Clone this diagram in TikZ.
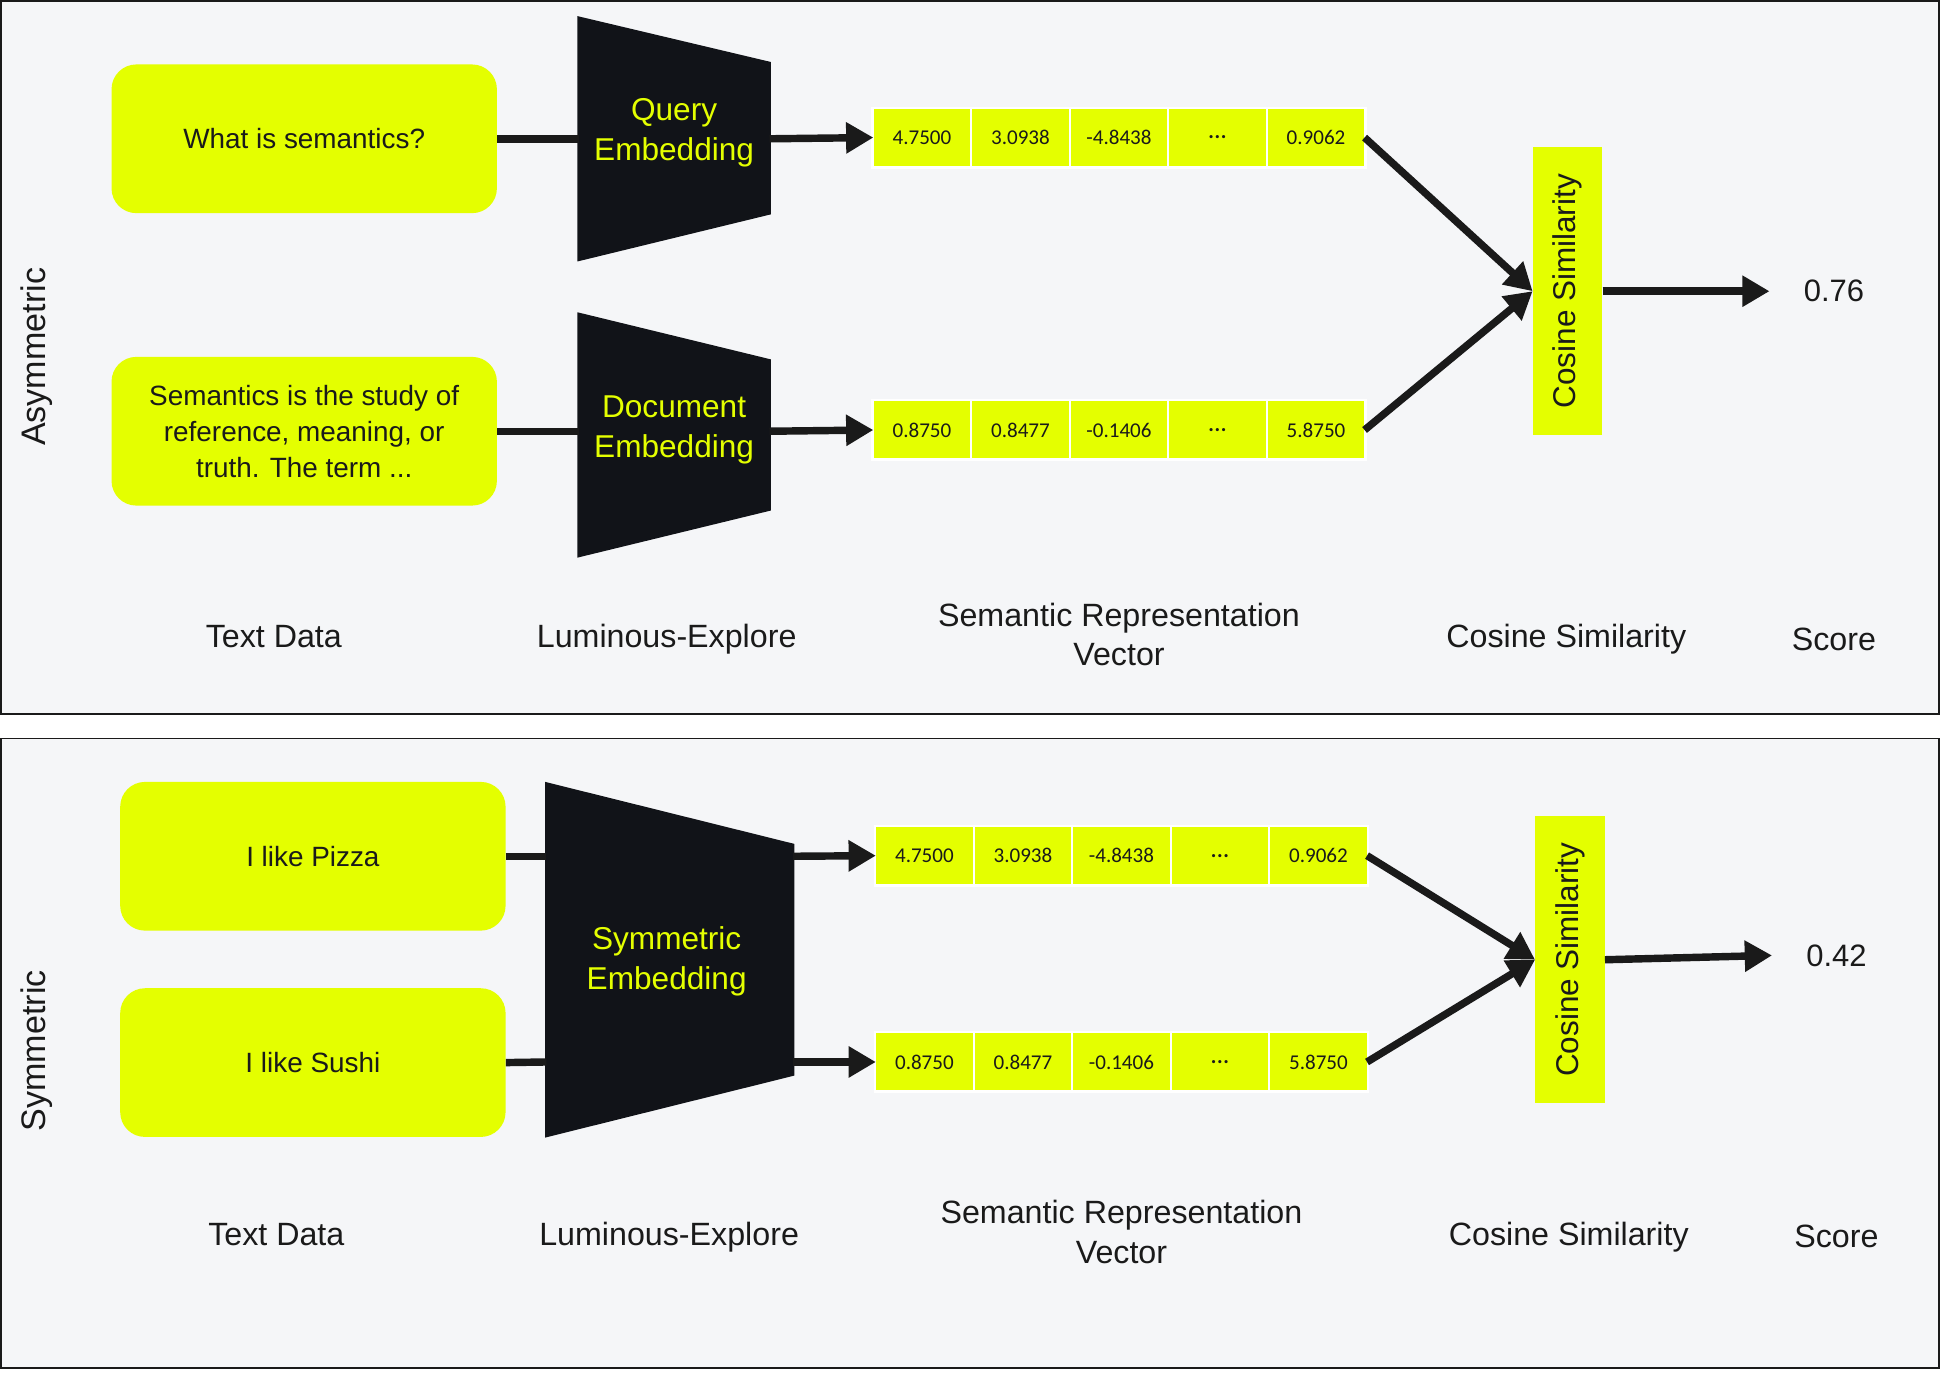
\documentclass[tikz,border=0pt]{standalone}
\usepackage{fontspec}
\setmainfont{Liberation Sans}
\newfontfamily\cellfont{Carlito}
\usetikzlibrary{arrows.meta}
\definecolor{lime}{HTML}{E4FF00}
\definecolor{ink}{HTML}{1A1A1A}
\definecolor{trap}{HTML}{111318}
\definecolor{panel}{HTML}{F5F6F8}
\newcommand\vecrow[8]{%
  \fill[white] (#2-2,#3-25) rectangle (#2+398,#3+25);
  \node[cell] (#1a) at (#2+39,#3) {#4};
  \node[cell] (#1b) at (#2+118.5,#3) {#5};
  \node[cell] (#1c) at (#2+198,#3) {#6};
  \node[cell] (#1d) at (#2+277.5,#3) {#7};
  \node[cell] (#1e) at (#2+357,#3) {#8};
}
\newcommand\celldots{{\bfseries .\kern0.5pt.\kern0.5pt.}}
\begin{document}
\begin{tikzpicture}[x=1pt,y=-1pt,
  panelbox/.style={draw=ink,line width=1.5pt,fill=panel},
  textbox/.style={fill=lime,rounded corners=20pt,minimum width=311pt,minimum height=120pt,inner sep=0pt,align=center,text=ink,font=\fontsize{22.5}{29}\selectfont},
  trapezium/.style={fill=trap},
  traptext/.style={align=center,text=lime,font=\fontsize{25.5}{32}\selectfont},
  cell/.style={fill=lime,minimum width=78pt,minimum height=46pt,inner sep=0pt,text=ink,font=\cellfont\fontsize{17}{20}\selectfont},
  cosbox/.style={fill=lime,rotate=90,minimum width=232pt,minimum height=56pt,inner sep=0pt,text=ink,font=\fontsize{25.4}{30}\selectfont},
  conn/.style={draw=ink,line width=6pt},
  arr/.style={draw=ink,line width=6pt,-{Triangle[length=22pt,width=24pt]}},
  label/.style={align=center,text=ink,font=\fontsize{26}{32}\selectfont},
  side/.style={rotate=90,text=ink,font=\fontsize{27.5}{30}\selectfont},
  score/.style={text=ink,font=\fontsize{25}{30}\selectfont}]
\useasboundingbox (0,0) rectangle (1568,1117);
% panels
\draw[panelbox] (1,1) rectangle (1565,576);
\draw[panelbox] (1,596) rectangle (1565,1104);

% ================= top panel =================
\node[side] (asym) at (30,288) {Asymmetric};
\node[textbox] (q) at (245.5,112) {What is semantics?};
\node[textbox] (d) at (245.5,348) {Semantics is the study of\\reference, meaning, or\\truth. The term ...};
\fill[trapezium] (466,13) -- (622,50) -- (622,173) -- (466,211) -- cycle;
\fill[trapezium] (466,252) -- (622,290) -- (622,412) -- (466,450) -- cycle;
\node[traptext] (qe) at (544,107) {Query\\Embedding};
\node[traptext] (de) at (544,347) {Document\\Embedding};
\coordinate (qin) at (467,112);
\coordinate (qout) at (621,112);
\coordinate (din) at (467,348);
\coordinate (dout) at (621,348);
\vecrow{ra}{705}{111}{4.7500}{3.0938}{-4.8438}{\celldots}{0.9062}
\vecrow{rb}{705}{347}{0.8750}{0.8477}{-0.1406}{\celldots}{5.8750}
\node[cosbox] (cs1) at (1265,235) {Cosine Similarity};
\coordinate (s1) at (1428,235);
\node[score] (v1) at (1480,235) {0.76};
\draw[conn] (q.east) -- (qin);
\draw[conn] (d.east) -- (din);
\draw[arr] (qout) -- (raa.west);
\draw[arr] (dout) -- (rba.west);
\draw[arr] (rae.east) -- (cs1.north);
\draw[arr] (rbe.east) -- (cs1.north);
\draw[arr] (cs1.south) -- (s1);
\node[label] (l1) at (221,514) {Text Data};
\node[label] (l2) at (538,516) {Luminous-Explore};
\node[label] (l3) at (903,512) {Semantic Representation\\Vector};
\node[label] (l4) at (1264,516) {Cosine Similarity};
\node[label] (l5) at (1480,516) {Score};

% ================= bottom panel =================
\node[side] (sym) at (30,848) {Symmetric};
\node[textbox] (p) at (252.5,691) {I like Pizza};
\node[textbox] (s) at (252.5,857.5) {I like Sushi};
\fill[trapezium] (440,631) -- (641,681) -- (641,868) -- (440,918) -- cycle;
\node[traptext] (se) at (538,776) {Symmetric\\Embedding};
\coordinate (pin) at (441,691);
\coordinate (pout) at (640,691);
\coordinate (sin) at (441,857);
\coordinate (sout) at (640,857);
\vecrow{rc}{707}{690.5}{4.7500}{3.0938}{-4.8438}{\celldots}{0.9062}
\vecrow{rd}{707}{857}{0.8750}{0.8477}{-0.1406}{\celldots}{5.8750}
\node[cosbox] (cs2) at (1267,774.5) {Cosine Similarity};
\coordinate (s2) at (1430,771);
\node[score] (v2) at (1482,771) {0.42};
\draw[conn] (p.east) -- (pin);
\draw[conn] (s.east) -- (sin);
\draw[arr] (pout) -- (rca.west);
\draw[arr] (sout) -- (rda.west);
\draw[arr] (rce.east) -- (cs2.north);
\draw[arr] (rde.east) -- (cs2.north);
\draw[arr] (cs2.south) -- (s2);
\node[label] (m1) at (223,996) {Text Data};
\node[label] (m2) at (540,998) {Luminous-Explore};
\node[label] (m3) at (905,994) {Semantic Representation\\Vector};
\node[label] (m4) at (1266,998) {Cosine Similarity};
\node[label] (m5) at (1482,998) {Score};
\end{tikzpicture}
\end{document}
